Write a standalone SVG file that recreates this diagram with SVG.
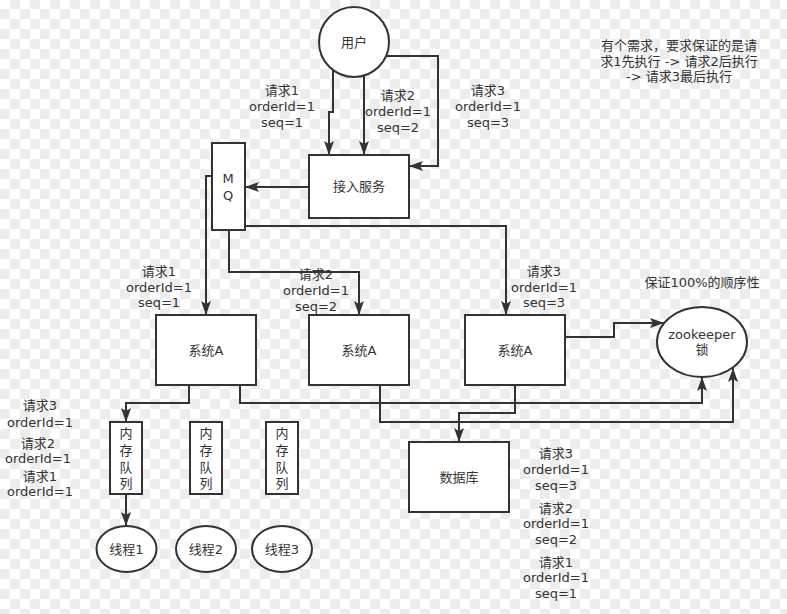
<svg xmlns="http://www.w3.org/2000/svg" width="787" height="614" viewBox="0 0 787 614">
<defs>
<pattern id="chk" x="0" y="-1" width="20" height="20" patternUnits="userSpaceOnUse">
<rect width="20" height="20" fill="#ffffff"/>
<rect x="10" y="0" width="10" height="10" fill="#ededed"/>
<rect x="0" y="10" width="10" height="10" fill="#ededed"/>
</pattern>
<marker id="arr" markerUnits="userSpaceOnUse" markerWidth="14" markerHeight="10" refX="14" refY="5" orient="auto">
<path d="M0,0 L14,5 L0,10 L3,5 Z" fill="#333"/>
</marker>
</defs>
<style>
.t{font-family:"DejaVu Sans","Noto Sans CJK SC",sans-serif;font-size:13px;fill:#333;text-anchor:middle}
.n{fill:#fff;stroke:#333;stroke-width:2}
.c path{fill:none;stroke:#333;stroke-width:2;marker-end:url(#arr)}
</style>
<rect width="787" height="614" fill="url(#chk)"/>

<g id="user"><circle class="n" cx="354" cy="42" r="35"/><text class="t" x="354" y="47">用户</text></g>
<g id="access"><rect class="n" x="309" y="155" width="100" height="63"/><text class="t" x="359" y="191">接入服务</text></g>
<g id="mq"><rect class="n" x="212" y="143" width="33" height="87"/><text class="t" x="228" y="183">M</text><text class="t" x="228" y="200">Q</text></g>
<g id="sysA1"><rect class="n" x="156" y="315" width="100" height="70"/><text class="t" x="206" y="355">系统A</text></g>
<g id="sysA2"><rect class="n" x="309" y="315" width="100" height="70"/><text class="t" x="359" y="355">系统A</text></g>
<g id="sysA3"><rect class="n" x="465" y="315" width="100" height="70"/><text class="t" x="515" y="355">系统A</text></g>
<g id="zk"><ellipse class="n" cx="702" cy="342" rx="45" ry="35"/><text class="t" x="702" y="339">zookeeper</text><text class="t" x="702" y="354">锁</text></g>
<g id="db"><rect class="n" x="409" y="442" width="100" height="70"/><text class="t" x="459" y="482">数据库</text></g>
<g id="queue1"><rect class="n" x="110" y="422" width="32" height="72"/><text class="t" x="126" y="438">内</text><text class="t" x="126" y="455">存</text><text class="t" x="126" y="472">队</text><text class="t" x="126" y="488">列</text></g>
<g id="queue2"><rect class="n" x="190" y="422" width="32" height="72"/><text class="t" x="206" y="438">内</text><text class="t" x="206" y="455">存</text><text class="t" x="206" y="472">队</text><text class="t" x="206" y="488">列</text></g>
<g id="queue3"><rect class="n" x="266" y="422" width="32" height="72"/><text class="t" x="282" y="438">内</text><text class="t" x="282" y="455">存</text><text class="t" x="282" y="472">队</text><text class="t" x="282" y="488">列</text></g>
<g id="thread1"><ellipse class="n" cx="126.5" cy="549" rx="30" ry="23"/><text class="t" x="126.5" y="554">线程1</text></g>
<g id="thread2"><ellipse class="n" cx="206" cy="549" rx="30" ry="23"/><text class="t" x="206" y="554">线程2</text></g>
<g id="thread3"><ellipse class="n" cx="282" cy="549" rx="30" ry="23"/><text class="t" x="282" y="554">线程3</text></g>

<g id="connectors" class="c">
<path d="M333,70 V112 H329 V155"/>
<path d="M364,76 V155"/>
<path d="M386,56 H438 V166 H409"/>
<path d="M309,187 H245"/>
<path d="M212,176 H206 V315"/>
<path d="M229,230 V272 H359 V315"/>
<path d="M245,226 H506 V315"/>
<path d="M565,337 H614 V323 H664"/>
<path d="M189,385 V403 H126 V422"/>
<path d="M240,385 V403 H702 V377"/>
<path d="M380,385 V422 H733 V368"/>
<path d="M515,385 V413 H459 V442"/>
<path d="M126,494 V526"/>
</g>

<g id="labels">
<text class="t" x="282" y="95">请求1</text><text class="t" x="282" y="111">orderId=1</text><text class="t" x="282" y="127">seq=1</text>
<text class="t" x="398" y="100">请求2</text><text class="t" x="398" y="116">orderId=1</text><text class="t" x="398" y="132">seq=2</text>
<text class="t" x="488" y="95">请求3</text><text class="t" x="488" y="111">orderId=1</text><text class="t" x="488" y="127">seq=3</text>
<text class="t" x="679" y="50">有个需求，要求保证的是请</text><text class="t" x="679" y="66">求1先执行 -&gt; 请求2后执行</text><text class="t" x="679" y="81">-&gt; 请求3最后执行</text>
<text class="t" x="159" y="276">请求1</text><text class="t" x="159" y="292">orderId=1</text><text class="t" x="159" y="307">seq=1</text>
<text class="t" x="316" y="279">请求2</text><text class="t" x="316" y="295">orderId=1</text><text class="t" x="316" y="311">seq=2</text>
<text class="t" x="544" y="276">请求3</text><text class="t" x="544" y="292">orderId=1</text><text class="t" x="544" y="307">seq=3</text>
<text class="t" x="702" y="287">保证100%的顺序性</text>
<text class="t" x="40" y="410">请求3</text><text class="t" x="40" y="427">orderId=1</text>
<text class="t" x="38" y="448">请求2</text><text class="t" x="38" y="463">orderId=1</text>
<text class="t" x="40" y="481">请求1</text><text class="t" x="40" y="496">orderId=1</text>
<text class="t" x="556" y="458">请求3</text><text class="t" x="556" y="474">orderId=1</text><text class="t" x="556" y="490">seq=3</text>
<text class="t" x="556" y="513">请求2</text><text class="t" x="556" y="528">orderId=1</text><text class="t" x="556" y="544">seq=2</text>
<text class="t" x="556" y="567">请求1</text><text class="t" x="556" y="582">orderId=1</text><text class="t" x="556" y="598">seq=1</text>
</g>
</svg>
